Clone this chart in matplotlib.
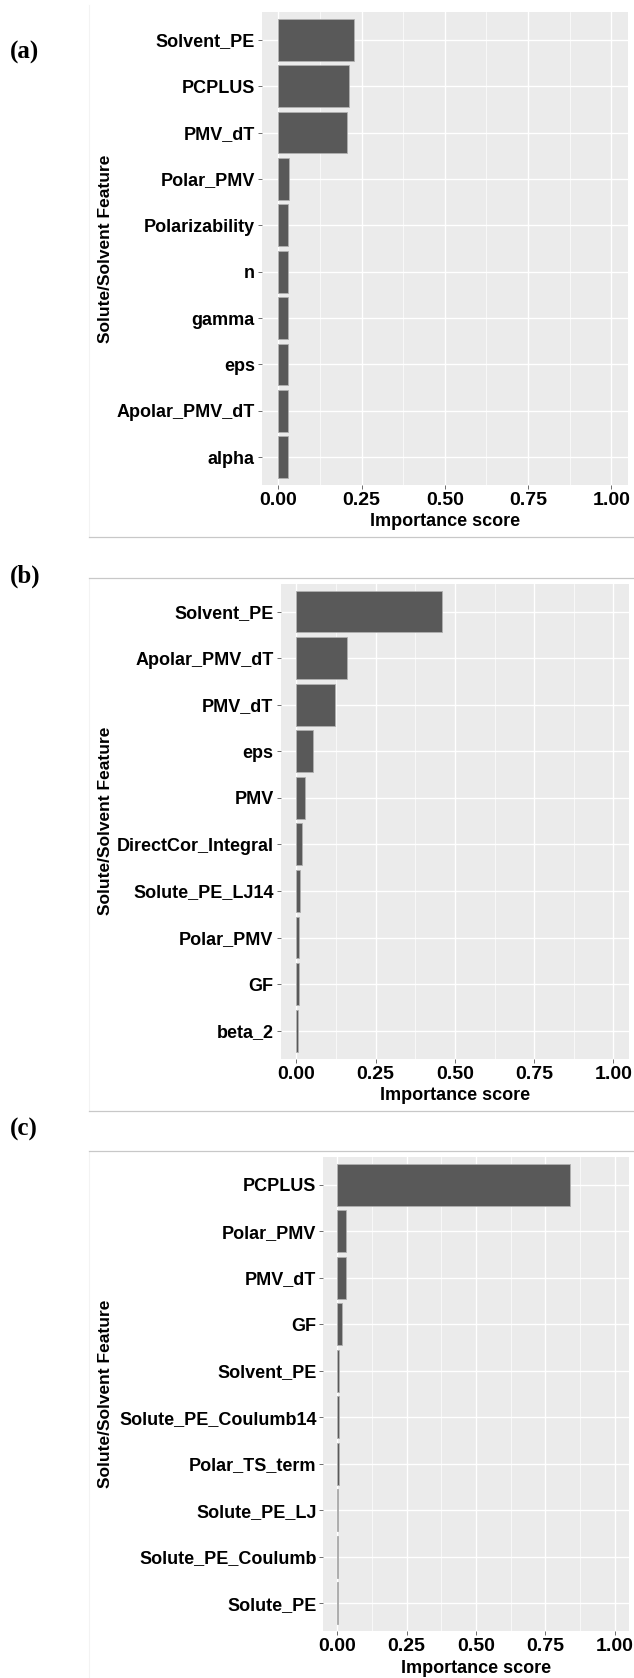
import matplotlib.pyplot as plt
from matplotlib.ticker import MultipleLocator
from matplotlib.lines import Line2D

# importance scores, read top -> bottom
a_labels = ['Solvent_PE', 'PCPLUS', 'PMV_dT', 'Polar_PMV', 'Polarizability',
            'n', 'gamma', 'eps', 'Apolar_PMV_dT', 'alpha']
a_values = [0.227, 0.213, 0.207, 0.033, 0.030, 0.030, 0.030, 0.030, 0.028, 0.028]

b_labels = ['Solvent_PE', 'Apolar_PMV_dT', 'PMV_dT', 'eps', 'PMV',
            'DirectCor_Integral', 'Solute_PE_LJ14', 'Polar_PMV', 'GF', 'beta_2']
b_values = [0.458, 0.160, 0.121, 0.052, 0.028, 0.017, 0.010, 0.009, 0.009, 0.005]

c_labels = ['PCPLUS', 'Polar_PMV', 'PMV_dT', 'GF', 'Solvent_PE',
            'Solute_PE_Coulumb14', 'Polar_TS_term', 'Solute_PE_LJ',
            'Solute_PE_Coulumb', 'Solute_PE']
c_values = [0.838, 0.033, 0.030, 0.017, 0.008, 0.008, 0.008, 0.004, 0.004, 0.003]

panel_tags = ['(a)', '(b)', '(c)']
x_ticks = [0.00, 0.25, 0.50, 0.75, 1.00]
x_title = 'Importance score'
y_title = 'Solute/Solvent Feature'

W, H = 634, 1678
fig = plt.figure(figsize=(W / 100, H / 100), dpi=100)
fig.patch.set_facecolor('white')

plt.rcParams['font.family'] = ['Liberation Sans', 'DejaVu Sans']


def rect(left, top, right, bottom):
    return [left / W, 1 - bottom / H, (right - left) / W, (bottom - top) / H]


# pixel boxes of the three panels: left, top, right, bottom
boxes = [(261.7, 12, 628, 485),
         (280.5, 583.6, 629.3, 1058.6),
         (323.4, 1156.7, 628.7, 1631.3)]
tag_y = [52, 576, 1129]
frames = [(5, 537.3), (578.3, 1110.7), (1151, 1678)]

data = [(a_labels, a_values), (b_labels, b_values), (c_labels, c_values)]

for i, (labels, values) in enumerate(data):
    l, t, r, b = boxes[i]
    ax = fig.add_axes(rect(l, t, r, b))
    ax.set_facecolor('#ebebeb')
    ax.barh(labels[::-1], values[::-1], height=0.9, color='#595959',
            edgecolor='#b0b0b0', linewidth=0.6, zorder=3)
    ax.set_xlim(-0.05, 1.05)
    ax.set_ylim(-0.6, 9.6)

    ax.xaxis.set_minor_locator(MultipleLocator(0.125))
    ax.set_xticks(x_ticks)
    ax.set_xticklabels(['%.2f' % v for v in x_ticks])
    ax.grid(which='major', color='white', lw=1.0, zorder=1)
    ax.grid(which='minor', axis='x', color='white', lw=0.5, zorder=1)

    for s in ax.spines.values():
        s.set_visible(False)
    ax.tick_params(which='major', length=3, width=0.6, color='#555555', pad=2,
                   labelsize=13, labelcolor='black')
    ax.tick_params(axis='x', labelsize=14)
    ax.tick_params(which='minor', length=0)
    for lab in ax.get_xticklabels() + ax.get_yticklabels():
        lab.set_fontweight('bold')

    hpx = b - t
    wpx = r - l
    ax.set_xlabel(x_title, fontsize=13, fontweight='bold')
    ax.xaxis.label.set_va('center')
    ax.xaxis.set_label_coords(0.5, -37 / hpx)
    ax.set_ylabel(y_title, fontsize=12.5, fontweight='bold')
    ax.yaxis.label.set_va('center')
    ax.yaxis.set_label_coords((105 - l) / wpx, 0.5)

    fig.text(10 / W, 1 - tag_y[i] / H, panel_tags[i], family='Liberation Serif',
             fontweight='bold', fontsize=18, ha='left', va='center')

    # screenshot frame of each sub-figure
    f0, f1 = frames[i]
    fig.add_artist(Line2D([88.5 / W, 88.5 / W], [1 - f0 / H, 1 - f1 / H],
                          color='#f3f3f3', lw=0.8))
    if i < 2:
        fig.add_artist(Line2D([89 / W, 1], [1 - f1 / H, 1 - f1 / H],
                              color='#c8c8c8', lw=0.9))
    if i > 0:
        fig.add_artist(Line2D([89 / W, 1], [1 - f0 / H, 1 - f0 / H],
                              color='#c8c8c8', lw=0.9))

fig.savefig('out.png', dpi=100, facecolor='white')
